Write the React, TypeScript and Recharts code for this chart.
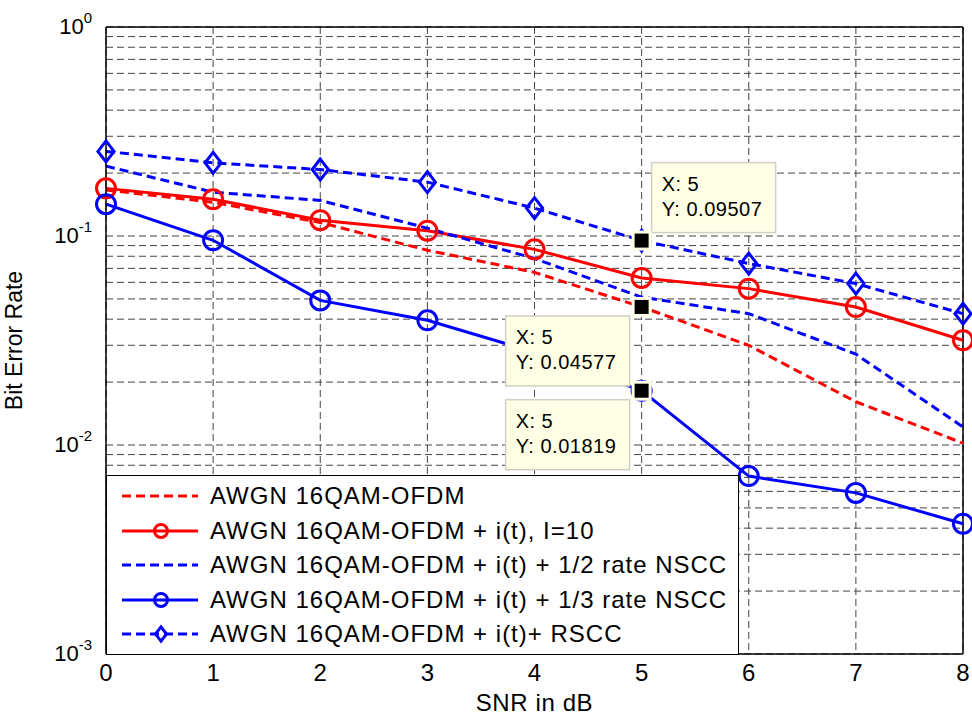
import React from "react";
import {
  LineChart,
  Line,
  CartesianGrid,
  XAxis,
  YAxis,
  ReferenceLine,
  Label
} from "recharts";

const snr = [0, 1, 2, 3, 4, 5, 6, 7, 8];
const awgn = [0.166, 0.145, 0.116, 0.0855, 0.067, 0.04577, 0.03, 0.0161, 0.0102];
const awgnInterf = [0.169, 0.15, 0.119, 0.106, 0.0863, 0.063, 0.056, 0.0457, 0.0317];
const halfRate = [0.216, 0.162, 0.148, 0.109, 0.078, 0.051, 0.0425, 0.0272, 0.0122];
const thirdRate = [0.142, 0.0954, 0.0492, 0.0395, 0.0278, 0.01819, 0.0071, 0.0059, 0.0042];
const rscc = [0.254, 0.224, 0.208, 0.181, 0.136, 0.09507, 0.0738, 0.0592, 0.0425];

// data cursor readouts (X, Y)
const tipX = [5, 5, 5];
const tipY = [0.09507, 0.04577, 0.01819];
// where each readout box sits relative to its point
const tipOffsets = [
  { dx: 10, dy: -78 },
  { dx: -136, dy: 9 },
  { dx: -136, dy: 9 }
];

const majorTicks = [0.001, 0.01, 0.1, 1];
const yTicks: number[] = [];
majorTicks.forEach((m, i) => {
  yTicks.push(m);
  if (i < majorTicks.length - 1) {
    for (let k = 2; k <= 9; k++) yTicks.push(+(m * k).toPrecision(3));
  }
});

const data = snr.map((s, i) => {
  const row: any = {
    snr: s,
    awgn: awgn[i],
    awgnInterf: awgnInterf[i],
    halfRate: halfRate[i],
    thirdRate: thirdRate[i],
    rscc: rscc[i]
  };
  tipX.forEach((tx, j) => {
    row["tip" + j] = tx === s ? tipY[j] : null;
  });
  return row;
});

const series = [
  { key: "awgn", name: "AWGN 16QAM-OFDM", color: "#ff0000", dash: "9 5", marker: "none" },
  { key: "awgnInterf", name: "AWGN 16QAM-OFDM + i(t), I=10", color: "#ff0000", dash: undefined, marker: "circle" },
  { key: "halfRate", name: "AWGN 16QAM-OFDM + i(t) + 1/2 rate NSCC", color: "#0000ff", dash: "9 5", marker: "none" },
  { key: "thirdRate", name: "AWGN 16QAM-OFDM + i(t) + 1/3 rate NSCC", color: "#0000ff", dash: undefined, marker: "circle" },
  { key: "rscc", name: "AWGN 16QAM-OFDM + i(t)+ RSCC", color: "#0000ff", dash: "9 5", marker: "diamond" }
];

const font = "'Liberation Sans', Arial, sans-serif";

function Marker({ cx, cy, kind, color, r }: any) {
  if (cx == null || cy == null || kind === "none") return null;
  if (kind === "circle") {
    return <circle cx={cx} cy={cy} r={r} fill="none" stroke={color} strokeWidth={3} />;
  }
  const w = r * 0.85;
  const h = r * 1.1;
  return (
    <path
      d={`M${cx},${cy - h}L${cx + w},${cy}L${cx},${cy + h}L${cx - w},${cy}Z`}
      fill="none"
      stroke={color}
      strokeWidth={3}
    />
  );
}

function YTick({ x, y, payload }: any) {
  const v = payload.value;
  const exp = Math.round(Math.log10(v));
  if (Math.abs(v - Math.pow(10, exp)) > 1e-9) return null;
  return (
    <text x={x - 6} y={y + 7} textAnchor="end" fontFamily={font} fontSize={22} fill="#000">
      <tspan>10</tspan>
      <tspan dy={-11} fontSize={15}>{exp}</tspan>
    </text>
  );
}

function DataTip({ cx, cy, value, x, off }: any) {
  if (cx == null || cy == null || value == null) return null;
  const bx = cx + off.dx;
  const by = cy + off.dy;
  return (
    <g>
      <rect x={bx} y={by} width={124} height={70} fill="#ffffe6" stroke="#d0d0c4" strokeWidth={1.5} />
      <text x={bx + 10} y={by + 28} fontFamily={font} fontSize={20} letterSpacing={0.5} fill="#000">
        {`X: ${x}`}
      </text>
      <text x={bx + 10} y={by + 53} fontFamily={font} fontSize={20} letterSpacing={0.5} fill="#000">
        {`Y: ${value}`}
      </text>
      <rect x={cx - 10} y={cy - 10} width={20} height={20} fill="#ffffe6" />
      <rect x={cx - 7} y={cy - 7} width={14} height={14} fill="#000" />
    </g>
  );
}

function LegendBox() {
  return (
    <div
      style={{
        position: "absolute",
        left: 106,
        top: 475,
        background: "#fff",
        border: "1.5px solid #000",
        width: 633,
        height: 180,
        boxSizing: "border-box",
        paddingTop: 3,
        fontFamily: font,
        fontSize: 24,
        letterSpacing: 1,
        color: "#000"
      }}
    >
      {series.map((s) => (
        <div key={s.key} style={{ display: "flex", alignItems: "center", height: 34.5 }}>
          <svg width={103} height={30} style={{ flex: "none" }}>
            <line
              x1={15}
              x2={91}
              y1={15}
              y2={15}
              stroke={s.color}
              strokeWidth={3}
              strokeDasharray={s.dash}
            />
            <Marker cx={54} cy={15} kind={s.marker} color={s.color} r={6.5} />
          </svg>
          <span style={{ whiteSpace: "nowrap" }}>{s.name}</span>
        </div>
      ))}
    </div>
  );
}

export default function App() {
  return (
    <div style={{ position: "absolute", left: 0, top: 0, width: 972, height: 717, background: "#fff" }}>
      <LineChart width={972} height={717} data={data} margin={{ top: 27, right: 9, bottom: 0, left: 0 }}>
        <CartesianGrid stroke="#444" strokeDasharray="7 4" />
        <XAxis
          dataKey="snr"
          type="number"
          domain={[0, 8]}
          ticks={snr}
          height={63}
          stroke="#000"
          strokeWidth={1.5}
          tickLine={false}
          tick={{ fill: "#000", fontSize: 24, fontFamily: font }}
          tickMargin={4}
        >
          <Label
            value="SNR in dB"
            position="insideBottom"
            offset={6}
            style={{ fill: "#000", fontSize: 24, fontFamily: font, letterSpacing: 0.6 }}
          />
        </XAxis>
        <YAxis
          scale="log"
          domain={[0.001, 1]}
          allowDataOverflow
          ticks={yTicks}
          interval={0}
          width={106}
          stroke="#000"
          strokeWidth={1.5}
          tickLine={false}
          tick={<YTick />}
        >
          <Label
            value="Bit Error Rate"
            angle={-90}
            position="insideLeft"
            offset={14}
            style={{ fill: "#000", fontSize: 23, fontFamily: font, textAnchor: "middle" }}
          />
        </YAxis>
        <ReferenceLine y={1} stroke="#000" strokeWidth={1.5} />
        <ReferenceLine x={8} stroke="#000" strokeWidth={1.5} />
        {series.map((s) => (
          <Line
            key={s.key}
            dataKey={s.key}
            name={s.name}
            stroke={s.color}
            strokeWidth={3}
            strokeDasharray={s.dash}
            isAnimationActive={false}
            dot={(p: any) => <Marker key={p.index} cx={p.cx} cy={p.cy} kind={s.marker} color={s.color} r={9.5} />}
            activeDot={false}
          />
        ))}
        {tipX.map((tx, j) => (
          <Line
            key={"tip" + j}
            dataKey={"tip" + j}
            stroke="none"
            legendType="none"
            isAnimationActive={false}
            activeDot={false}
            dot={(p: any) => (
              <DataTip key={p.index} cx={p.cx} cy={p.cy} value={p.value} x={tx} off={tipOffsets[j]} />
            )}
          />
        ))}
      </LineChart>
      <LegendBox />
    </div>
  );
}
